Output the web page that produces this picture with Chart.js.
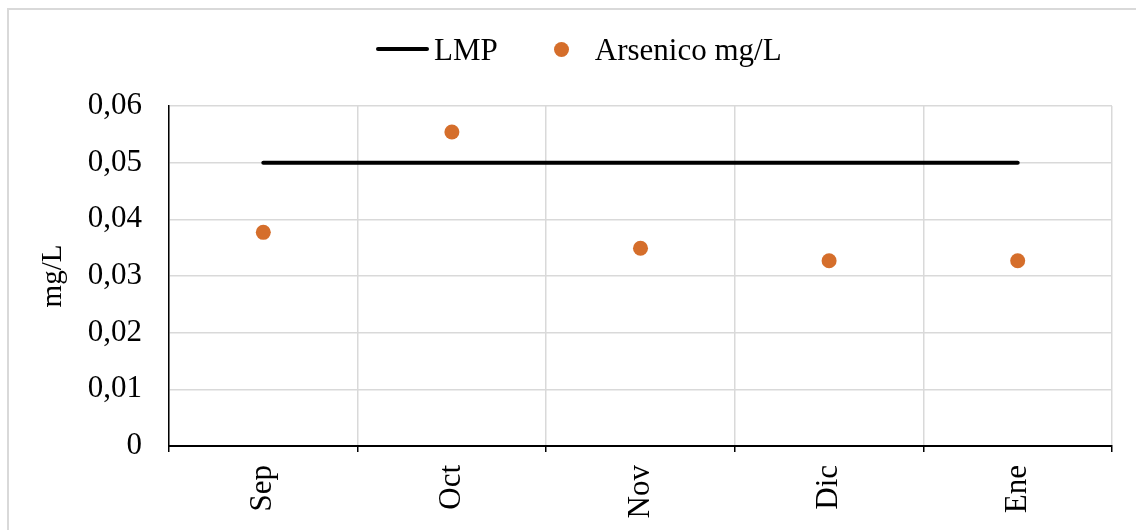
<!DOCTYPE html>
<html>
<head>
<meta charset="utf-8">
<script src="https://cdn.jsdelivr.net/npm/chart.js@4.4.1/dist/chart.umd.min.js"></script>
<style>
    html, body { margin: 0; padding: 0; background: #fff; overflow: hidden; }
    #wrap { position: relative; width: 1136px; height: 530px; }
    #frame {
        position: absolute; left: 7px; top: 8px; width: 1300px; height: 700px;
        border-left: 2px solid #d9d9d9; border-top: 2px solid #d9d9d9;
    }
    #chart { position: absolute; left: 0; top: 0; }
    #legend {
        position: absolute; left: 376px; top: 29px; height: 40px;
        display: flex; align-items: center;
        font-family: 'Liberation Serif', 'Times New Roman', serif; font-size: 31px; line-height: 1; color: #000;
        white-space: nowrap;
    }
    #legend .item { display: flex; align-items: center; }
    #legend .line { width: 53px; height: 4px; border-radius: 2px; margin-right: 5px; }
    #legend .dot { width: 15px; height: 15px; border-radius: 50%; margin-right: 26px; }
</style>
</head>
<body>
<div id="wrap">
    <div id="frame"></div>
    <canvas id="chart" width="1136" height="530"></canvas>
    <div id="legend"></div>
</div>
<script>
// Months on the x axis
const months = ['Sep', 'Oct', 'Nov', 'Dic', 'Ene'];
// Limit (LMP) and measured arsenic, mg/L
const lmpValues = [0.05, 0.05, 0.05, 0.05, 0.05];
const arsenicoValues = [0.0377, 0.0554, 0.0349, 0.0327, 0.0327];
// Y axis range
const yMin = 0;
const yMax = 0.06;
const yStep = 0.01;

const serif = "'Liberation Serif', 'Times New Roman', serif";
const orange = '#d56e2b';

const ctx = document.getElementById('chart').getContext('2d');

const chart = new Chart(ctx, {
    type: 'line',
    data: {
        labels: months,
        datasets: [
            {
                label: 'LMP',
                data: lmpValues,
                borderColor: '#000',
                borderWidth: 4,
                borderCapStyle: 'round',
                pointRadius: 0,
                fill: false
            },
            {
                label: 'Arsenico mg/L',
                data: arsenicoValues,
                showLine: false,
                pointRadius: 7.5,
                pointBorderWidth: 0,
                pointBackgroundColor: orange,
                borderColor: orange,
                backgroundColor: orange
            }
        ]
    },
    options: {
        responsive: false,
        animation: false,
        layout: {
            padding: { top: 106, right: 24, bottom: 0, left: 0 }
        },
        plugins: {
            legend: { display: false },
            tooltip: { enabled: false }
        },
        scales: {
            x: {
                offset: true,
                grid: {
                    offset: true,
                    color: '#d9d9d9',
                    lineWidth: 1.5,
                    tickColor: '#000',
                    tickLength: 6
                },
                border: { color: '#000', width: 2 },
                ticks: {
                    color: '#000',
                    font: { family: serif, size: 31 },
                    minRotation: 90,
                    maxRotation: 90,
                    autoSkip: false,
                    padding: 13
                },
                afterFit: (scale) => { scale.height = 84; }
            },
            y: {
                min: yMin,
                max: yMax,
                grid: {
                    color: '#d9d9d9',
                    lineWidth: 1.5,
                    drawTicks: false
                },
                border: { color: '#000', width: 1.5 },
                ticks: {
                    stepSize: yStep,
                    color: '#000',
                    font: { family: serif, size: 31 },
                    padding: 27,
                    callback: (value) => value === 0 ? '0' : value.toFixed(2).replace('.', ',')
                },
                title: {
                    display: true,
                    text: 'mg/L',
                    color: '#000',
                    font: { family: serif, size: 29 },
                    padding: { top: 36, bottom: 0 }
                },
                afterFit: (scale) => { scale.width = 169; }
            }
        }
    }
});

// HTML legend built from the datasets
function buildLegend() {
    const legend = document.getElementById('legend');
    legend.innerHTML = '';
    chart.data.datasets.forEach((ds, i) => {
        const item = document.createElement('div');
        item.className = 'item';
        if (i > 0) item.style.marginLeft = '56px';
        const mark = document.createElement('span');
        if (ds.showLine === false) {
            mark.className = 'dot';
            mark.style.background = ds.pointBackgroundColor;
        } else {
            mark.className = 'line';
            mark.style.background = ds.borderColor;
        }
        const text = document.createElement('span');
        text.textContent = ds.label;
        item.appendChild(mark);
        item.appendChild(text);
        legend.appendChild(item);
    });
}

buildLegend();
</script>
</body>
</html>
